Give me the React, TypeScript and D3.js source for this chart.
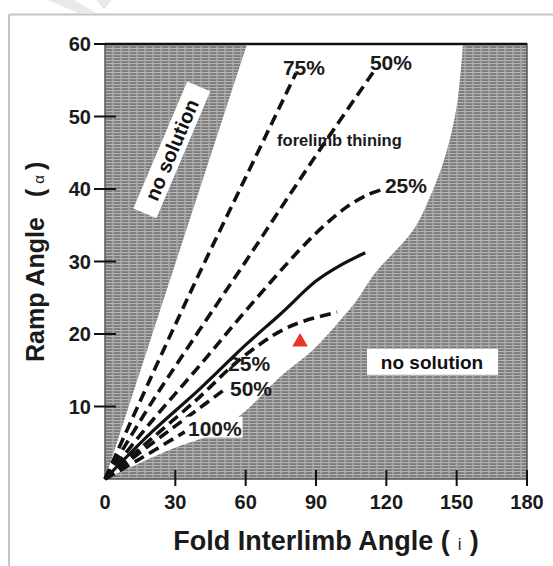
import React from 'react'
import * as d3 from 'd3'

// axis ticks
const xTicks = [0, 30, 60, 90, 120, 150, 180]
const yTicks = [10, 20, 30, 40, 50, 60]

// boundary of the solution field (left edge is alpha = i)
const leftBoundary: [number, number][] = [[0, 0], [60.6, 60]]
const rightBoundary: [number, number][] = [
  [152.7, 60], [150.6, 52.7], [148, 48.1], [144.2, 43.6], [138.6, 38.9],
  [131.4, 34.3], [115.2, 28.4], [107.5, 24.7], [100.3, 21.9], [88.7, 17.8],
  [74.7, 14.1], [58.9, 9.1], [44.8, 6.1], [29, 4.2], [0, 0],
]

// forelimb thinning curves
const thin75: [number, number][] = [[0, 0], [20, 14.3], [40, 28.2], [60, 41.6], [81.5, 56]]
const thin50: [number, number][] = [[0, 0], [20, 10.6], [40, 20.4], [60, 30], [80, 39.8], [95, 47], [115, 56.4]]
const thin25: [number, number][] = [[0, 0], [20, 8], [40, 15.5], [60, 23.2], [83, 31.6], [93, 34.8], [103, 37.5], [112, 39.2], [119, 40]]
// no thinning
const noThin: [number, number][] = [[0, 0], [20, 6.5], [40, 12.3], [60, 18.5], [75, 22.8], [90, 27.3], [100, 29.4], [111, 31.2]]
// forelimb thickening curves
const thick25: [number, number][] = [[0, 0], [20, 5.6], [40, 11.2], [55, 15.8], [67, 18.8], [76, 20.6], [85, 21.8], [99, 23]]
const thick50: [number, number][] = [[0, 0], [20, 4.9], [35, 8.5], [52, 12.6]]
const thick100: [number, number][] = [[0, 0], [15, 2.8], [34, 6.5]]

const dashedCurves = [thin75, thin50, thin25, thick25, thick50, thick100]

// observed example
const example: [number, number] = [83.2, 18.9]

// labels: text, i, alpha
const curveLabels: [string, number, number][] = [
  ['75%', 75.9, 55.7],
  ['50%', 113, 56.4],
  ['25%', 119.4, 39.4],
  ['25%', 52.5, 14.9],
  ['50%', 53.3, 11.4],
]

const FONT = '"Liberation Sans", Arial, Helvetica, sans-serif'

export default function App() {
  const W = 553
  const H = 566
  const x = d3.scaleLinear().domain([0, 180]).range([105, 527])
  const y = d3.scaleLinear().domain([0, 60]).range([479, 44])

  const line = d3.line<[number, number]>().x(d => x(d[0])).y(d => y(d[1]))
  const smooth = d3.line<[number, number]>().x(d => x(d[0])).y(d => y(d[1])).curve(d3.curveCatmullRom.alpha(0.5))

  const fieldPath =
    line(leftBoundary)! +
    'L' + x(rightBoundary[0][0]) + ',' + y(60) +
    smooth(rightBoundary)!.replace(/^M/, 'L') + 'Z'

  const tri = d3.symbol().type(d3.symbolTriangle).size(105)()

  return (
    <svg width={W} height={H} style={{ position: 'absolute', left: 0, top: 0 }} fontFamily={FONT}>
      <defs>
        <pattern id="hatch" width={8} height={3} patternUnits="userSpaceOnUse">
          <rect width={8} height={3} fill="#7c7c7c" />
          <rect width={8} height={1.1} fill="#b4b4b4" />
          <rect width={2} height={3} fill="#ababab" opacity={0.75} />
        </pattern>
      </defs>
      <rect width={W} height={H} fill="#fff" />
      {/* faint scan watermark */}
      <path d="M48,0 L74,0 L96,13 L78,13 Z M96,0 L112,0 L104,9 Z" fill="#e9e9e9" />
      {/* frame */}
      <line x1={9} x2={W} y1={14.5} y2={14.5} stroke="#c4c4c4" strokeWidth={2} />
      <line x1={9} x2={9} y1={14.5} y2={H} stroke="#c4c4c4" strokeWidth={2} />

      {/* plot area */}
      <rect x={x(0)} y={y(60)} width={x(180) - x(0)} height={y(0) - y(60)} fill="url(#hatch)" stroke="#555" strokeWidth={1.5} />
      <path d={fieldPath} fill="#fff" />
      <line x1={x(0)} x2={x(180)} y1={y(60)} y2={y(60)} stroke="#111" strokeWidth={2.5} />

      {/* ticks */}
      {yTicks.map(t => (
        <g key={'y' + t}>
          <line x1={x(0) - 11} x2={x(0) + 11} y1={y(t)} y2={y(t)} stroke="#111" strokeWidth={2} />
          <text x={x(0) - 14} y={y(t)} dy="0.36em" textAnchor="end" fontSize={20} fontWeight="bold" fill="#1a1a1a">{t}</text>
        </g>
      ))}
      {xTicks.map(t => (
        <g key={'x' + t}>
          {t > 0 && <line x1={x(t)} x2={x(t)} y1={y(0) - 9} y2={y(0) + 7} stroke="#111" strokeWidth={2} />}
          <text x={x(t)} y={509} textAnchor="middle" fontSize={20} fontWeight="bold" fill="#1a1a1a">{t}</text>
        </g>
      ))}

      {/* curves */}
      {dashedCurves.map((c, k) => (
        <path key={k} d={smooth(c)!} fill="none" stroke="#111" strokeWidth={3.6} strokeDasharray="11,6" />
      ))}
      <path d={smooth(noThin)!} fill="none" stroke="#111" strokeWidth={3.2} />

      {/* example point */}
      <path d={tri!} transform={`translate(${x(example[0])},${y(example[1])})`} fill="#e8332b" />

      {/* labels */}
      {curveLabels.map(([t, i, a], k) => (
        <text key={k} x={x(i)} y={y(a)} fontSize={21} fontWeight="bold" fill="#1a1a1a">{t}</text>
      ))}
      <rect x={x(34.8)} y={y(8.6)} width={56} height={21} fill="#fff" />
      <text x={x(35.4)} y={y(5.9)} fontSize={21} fontWeight="bold" fill="#1a1a1a">100%</text>
      <text x={x(73.4)} y={y(45.9)} fontSize={16.5} fontWeight="bold" fill="#1a1a1a">forelimb thining</text>

      <g transform={`translate(${x(139.5)},${y(15.2)})`}>
        <rect x={-65} y={-20} width={131} height={26} fill="#fff" />
        <text x={0} y={0} textAnchor="middle" fontSize={19} fontWeight="bold" fill="#111">no solution</text>
      </g>

      <g transform={`translate(${x(28.5)},${y(45.4)}) rotate(-67)`}>
        <rect x={-69} y={-12.5} width={138} height={25} fill="#fff" />
        <text x={0} y={0} dy="0.35em" textAnchor="middle" fontSize={20} fontWeight="bold" fill="#111">no solution</text>
      </g>

      {/* axis titles */}
      <text x={326} y={550} textAnchor="middle" fontSize={27} fontWeight="bold" fill="#1a1a1a">
        Fold Interlimb Angle (<tspan fontSize={17} fontWeight="normal" dx={8}>i</tspan><tspan dx={8}>)</tspan>
      </text>
      <text transform="translate(44,362) rotate(-90)" fontSize={25} fontWeight="bold" fill="#1a1a1a">
        Ramp Angle<tspan dx={20}>(</tspan><tspan fontSize={15} fontWeight="normal" dx={5}>α</tspan><tspan dx={5}>)</tspan>
      </text>
    </svg>
  )
}
